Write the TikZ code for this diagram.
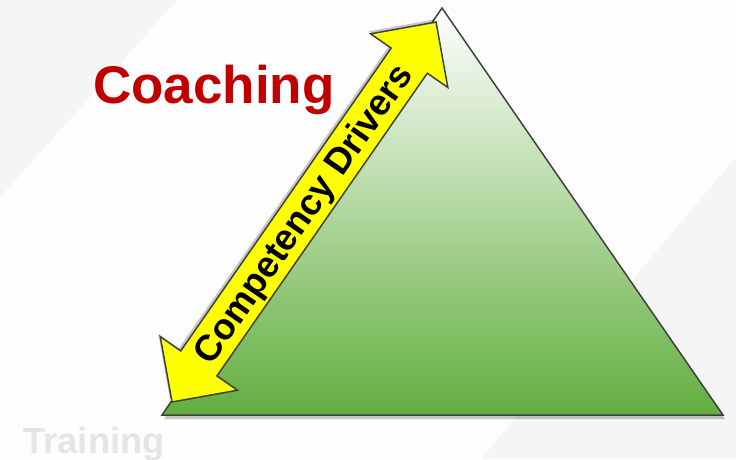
\documentclass[tikz,border=0pt]{standalone}
\usepackage{fontspec}
\setmainfont{Liberation Sans}
\usetikzlibrary{calc}
\definecolor{bandgray}{RGB}{245,245,245}
\definecolor{bgwhite}{RGB}{253,253,253}
\definecolor{trigreen}{RGB}{98,174,62}
\definecolor{outlinegray}{RGB}{64,64,64}
\definecolor{coachred}{RGB}{192,0,0}
\definecolor{traingray}{RGB}{229,229,229}
\definecolor{arrowyellow}{RGB}{255,255,0}
\tikzset{
  outlinestyle/.style={draw=outlinegray, line width=1.5pt, line join=miter},
  shadowstyle/.style={fill=black, opacity=0.22},
  bigtext/.style={font=\bfseries\fontsize{53}{60}\selectfont, inner sep=0pt},
  midtext/.style={font=\bfseries\fontsize{36.5}{40}\selectfont, inner sep=0pt},
}
\begin{document}
\begin{tikzpicture}[x=1pt,y=-1pt]
\useasboundingbox (0,0) rectangle (736,459);
\fill[bgwhite] (0,0) rectangle (736,459);
\fill[bandgray] (0,0) -- (177,0) -- (0,197) -- cycle;
\fill[bandgray] (736,157) -- (736,459) -- (481,459) -- cycle;

% triangle
\coordinate (L) at (162,415);
\coordinate (T) at (442,8);
\coordinate (R) at (723,415);
\fill[shadowstyle] ([shift={(2,4)}]L) -- ([shift={(2,4)}]T) -- ([shift={(2,4)}]R) -- cycle;
\shade[top color=white, bottom color=trigreen] (L) -- (T) -- (R) -- cycle;
\draw[outlinestyle] (L) -- (T) -- (R) -- cycle;

% double arrow
\coordinate (tail) at (172,402);
\coordinate (head) at (436,22);
\begin{scope}[shift={(tail)}, rotate=55.2]
  \def\len{462.7}
  \def\hl{47}
  \def\hw{47}
  \def\sw{22}
  \fill[shadowstyle, shift={(1,-3)}] (0,0) -- (\hl,\hw) -- (\hl,\sw) -- (\len-\hl,\sw) -- (\len-\hl,\hw) -- (\len,0)
     -- (\len-\hl,-\hw) -- (\len-\hl,-\sw) -- (\hl,-\sw) -- (\hl,-\hw) -- cycle;
  \filldraw[fill=arrowyellow, outlinestyle] (0,0) -- (\hl,\hw) -- (\hl,\sw) -- (\len-\hl,\sw) -- (\len-\hl,\hw) -- (\len,0)
     -- (\len-\hl,-\hw) -- (\len-\hl,-\sw) -- (\hl,-\sw) -- (\hl,-\hw) -- cycle;
\end{scope}
\node[midtext, rotate=55.2] (drivers) at ($(tail)!0.5!(head)+(1,3)$) {Competency Drivers};

% labels
\node[bigtext, text=coachred, anchor=base west] (coaching) at (93,103) {Coaching};
\node[midtext, text=traingray, anchor=base west] (training) at (23,453) {Training};
\end{tikzpicture}
\end{document}
